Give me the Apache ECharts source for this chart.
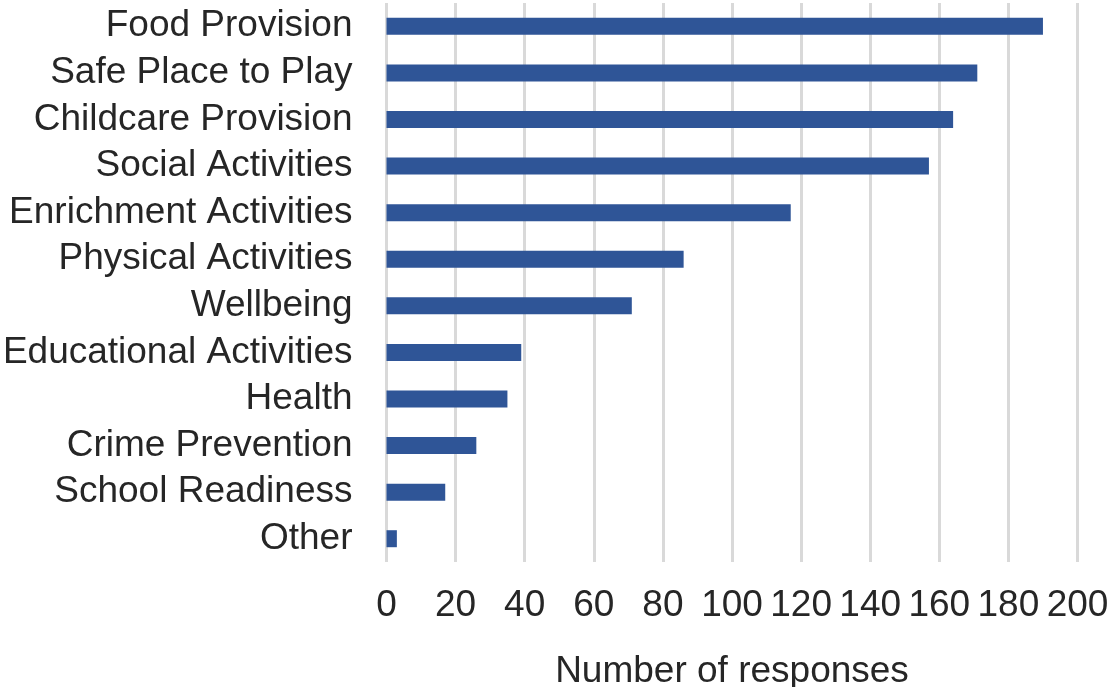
<!DOCTYPE html>
<html>
<head>
<meta charset="utf-8">
<script src="https://cdn.jsdelivr.net/npm/echarts@6/dist/echarts.min.js"></script>
<style>
  html, body { margin: 0; padding: 0; background: #ffffff; }
  #chart { width: 1108px; height: 687px; }
</style>
</head>
<body>
<div id="chart"></div>
<script>
const categories = [
  "Food Provision",
  "Safe Place to Play",
  "Childcare Provision",
  "Social Activities",
  "Enrichment Activities",
  "Physical Activities",
  "Wellbeing",
  "Educational Activities",
  "Health",
  "Crime Prevention",
  "School Readiness",
  "Other"
];
const responses = [190, 171, 164, 157, 117, 86, 71, 39, 35, 26, 17, 3];
const xTicks = { min: 0, max: 200, interval: 20 };
const xAxisTitle = "Number of responses";

const FONT = "'Liberation Sans', Arial, sans-serif";
const TEXT = "#262626";

const chart = echarts.init(document.getElementById('chart'), null, { renderer: 'canvas' });
chart.setOption({
  backgroundColor: '#ffffff',
  animation: false,
  grid: { left: 386.5, right: 30.5, top: 3, bottom: 125, containLabel: false, outerBoundsMode: 'none' },
  xAxis: {
    type: 'value',
    min: xTicks.min,
    max: xTicks.max,
    interval: xTicks.interval,
    axisLine: { show: false },
    axisTick: { show: false },
    splitLine: { show: true, lineStyle: { color: '#D9D9D9', width: 3 } },
    axisLabel: { color: TEXT, fontFamily: FONT, fontSize: 37, margin: 25, hideOverlap: false },
    name: xAxisTitle,
    nameLocation: 'middle',
    nameGap: 91,
    nameTextStyle: { color: TEXT, fontFamily: FONT, fontSize: 37 }
  },
  yAxis: {
    type: 'category',
    data: categories,
    inverse: true,
    axisLine: { show: false },
    axisTick: { show: false },
    splitLine: { show: false },
    axisLabel: { color: TEXT, fontFamily: FONT, fontSize: 37, margin: 34, interval: 0, hideOverlap: false, padding: [4, 0, 0, 0] }
  },
  series: [{
    type: 'bar',
    data: responses,
    barWidth: 17,
    itemStyle: { color: '#2F5597' }
  }]
});
</script>
</body>
</html>
